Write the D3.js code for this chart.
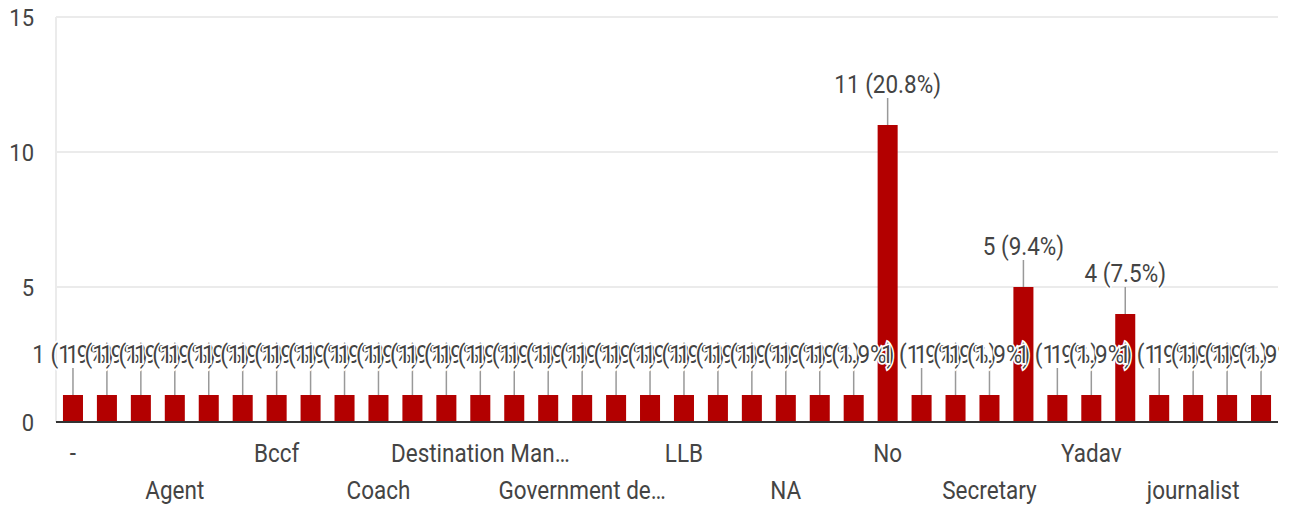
<!DOCTYPE html>
<html>
<head>
<meta charset="utf-8">
<script src="https://cdn.jsdelivr.net/npm/d3@7"></script>
<style>
  html, body { margin: 0; padding: 0; background: #fff; }
  svg { display: block; }
  text { font-family: Roboto, "Liberation Sans", sans-serif; }
</style>
</head>
<body>
<svg id="chart" width="1294" height="508"></svg>
<script>
// ---- data ----
const categories = [
  "-", "Accountant", "Advocate", "Agent", "Architect", "Banker",
  "Bccf", "Business", "Clerk", "Coach", "Consultant", "Designer",
  "Destination Management", "Doctor", "Engineer", "Government department", "Homemaker", "Lawyer",
  "LLB", "Manager", "Marketing", "NA", "Navy", "Nil",
  "No", "Officer", "Professor", "Secretary", "Self employed", "Student",
  "Yadav", "business", "doctor", "journalist", "none", "student"
];
const counts = [
  1, 1, 1, 1, 1, 1,
  1, 1, 1, 1, 1, 1,
  1, 1, 1, 1, 1, 1,
  1, 1, 1, 1, 1, 1,
  11, 1, 1, 1, 5, 1,
  1, 4, 1, 1, 1, 1
];
// tick labels as displayed (every third category, truncated)
const tickLabels = {
  0: "-", 3: "Agent", 6: "Bccf", 9: "Coach", 12: "Destination Man\u2026",
  15: "Government de\u2026", 18: "LLB", 21: "NA", 24: "No", 27: "Secretary",
  30: "Yadav", 33: "journalist"
};
const yTicks = [0, 5, 10, 15];

// ---- layout ----
const svg = d3.select("#chart");
const mLeft = 56, mRight = 1278, mTop = 17, mBottom = 422;
const total = d3.sum(counts);
const SY = 1.18; // vertical stretch of glyphs in the reference
const FS = 22.5;

const x = d3.scaleBand().domain(categories).range([mLeft, mRight]).paddingInner(0.41).paddingOuter(0.205);
const y = d3.scaleLinear().domain([0, 15]).range([mBottom, mTop]);

svg.append("defs").append("clipPath").attr("id", "clipR")
  .append("rect").attr("x", 0).attr("y", 0).attr("width", mRight + 1).attr("height", 508);

// gridlines
svg.append("g").selectAll("line").data(yTicks.filter(d => d > 0)).join("line")
  .attr("x1", mLeft).attr("x2", mRight)
  .attr("y1", d => y(d)).attr("y2", d => y(d))
  .attr("stroke", "#ebebeb").attr("stroke-width", 2);
// left border
svg.append("line").attr("x1", mLeft).attr("x2", mLeft).attr("y1", mTop).attr("y2", mBottom)
  .attr("stroke", "#ebebeb").attr("stroke-width", 2);

// y axis labels
const yAxis = d3.axisLeft(y).tickValues(yTicks).tickSize(0).tickPadding(22).tickFormat(d3.format("d"));
const yg = svg.append("g").attr("transform", `translate(${mLeft},0)`).call(yAxis);
yg.select(".domain").remove();
yg.selectAll("text")
  .attr("font-size", 22).attr("fill", "#444").attr("font-family", "Roboto, sans-serif")
  .attr("dy", null).attr("y", 0)
  .attr("transform", `translate(0,8) scale(1,1.12)`);

// bars
svg.append("g").selectAll("rect").data(categories).join("rect")
  .attr("x", d => x(d))
  .attr("y", (d, i) => y(counts[i]))
  .attr("width", x.bandwidth())
  .attr("height", (d, i) => y(0) - y(counts[i]))
  .attr("fill", "#b30000");

// baseline
svg.append("line").attr("x1", mLeft).attr("x2", mRight).attr("y1", y(0)).attr("y2", y(0))
  .attr("stroke", "#333").attr("stroke-width", 2);

// stems
svg.append("g").selectAll("line").data(categories).join("line")
  .attr("x1", d => x(d) + x.bandwidth() / 2).attr("x2", d => x(d) + x.bandwidth() / 2)
  .attr("y1", (d, i) => y(counts[i])).attr("y2", (d, i) => y(counts[i]) - 27)
  .attr("stroke", "#999").attr("stroke-width", 1.5);

// annotations
svg.append("g").attr("clip-path", "url(#clipR)")
  .selectAll("text").data(categories).join("text")
  .attr("transform", (d, i) => `translate(${x(d) + x.bandwidth() / 2},${y(counts[i]) - 32}) scale(1,${SY})`)
  .attr("text-anchor", "middle")
  .attr("font-size", FS)
  .attr("fill", "#444")
  .attr("stroke", "#fff").attr("stroke-width", 3).attr("paint-order", "stroke")
  .text((d, i) => `${counts[i]} (${(counts[i] / total * 100).toFixed(1)}%)`);

// x labels (alternating rows)
const xg = svg.append("g");
Object.keys(tickLabels).forEach(k => {
  const i = +k;
  const row = (i / 3) % 2;
  const cx = x(categories[i]) + x.bandwidth() / 2;
  xg.append("text")
    .attr("transform", `translate(${cx},${row === 0 ? 462 : 499}) scale(1,${SY})`)
    .attr("text-anchor", "middle")
    .attr("font-size", FS)
    .attr("fill", "#444")
    .text(tickLabels[k]);
});
</script>
</body>
</html>
